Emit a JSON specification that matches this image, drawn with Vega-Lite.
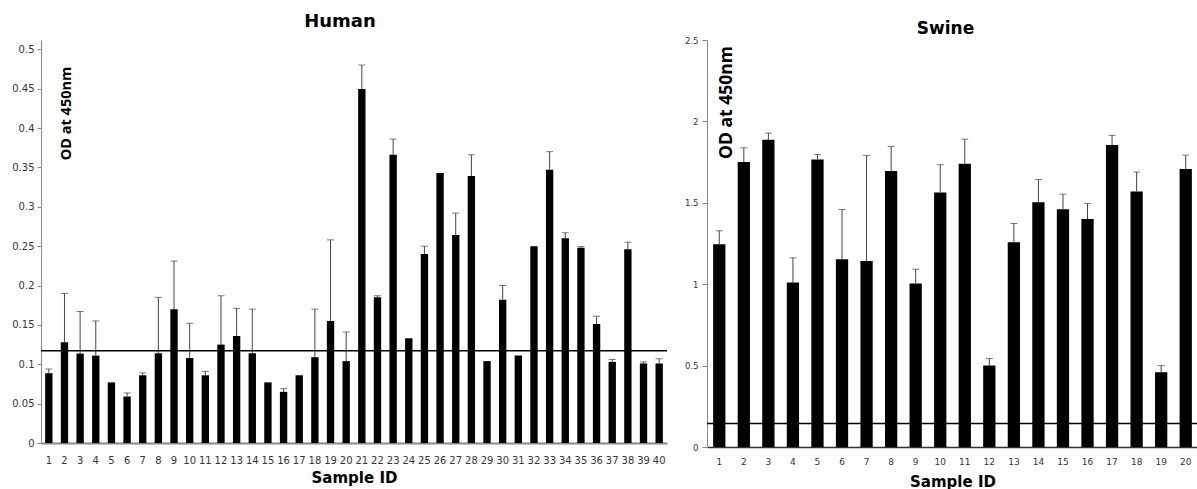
{
  "$schema": "https://vega.github.io/schema/vega-lite/v6.json",
  "background": "white",
  "padding": {"left": 5, "top": 13, "right": 0, "bottom": 0},
  "spacing": 15,
  "config": {"view": {"stroke": null}, "axis": {"grid": false}},
  "datasets": {
    "human": [
      {"id": 1, "od": 0.0886, "hi": 0.094},
      {"id": 2, "od": 0.128, "hi": 0.190},
      {"id": 3, "od": 0.1136, "hi": 0.167},
      {"id": 4, "od": 0.111, "hi": 0.155},
      {"id": 5, "od": 0.077, "hi": null},
      {"id": 6, "od": 0.059, "hi": 0.0636},
      {"id": 7, "od": 0.086, "hi": 0.089},
      {"id": 8, "od": 0.114, "hi": 0.185},
      {"id": 9, "od": 0.170, "hi": 0.231},
      {"id": 10, "od": 0.108, "hi": 0.152},
      {"id": 11, "od": 0.086, "hi": 0.091},
      {"id": 12, "od": 0.125, "hi": 0.187},
      {"id": 13, "od": 0.136, "hi": 0.171},
      {"id": 14, "od": 0.114, "hi": 0.170},
      {"id": 15, "od": 0.077, "hi": null},
      {"id": 16, "od": 0.065, "hi": 0.069},
      {"id": 17, "od": 0.086, "hi": null},
      {"id": 18, "od": 0.109, "hi": 0.170},
      {"id": 19, "od": 0.155, "hi": 0.258},
      {"id": 20, "od": 0.104, "hi": 0.141},
      {"id": 21, "od": 0.4496, "hi": 0.480},
      {"id": 22, "od": 0.185, "hi": 0.187},
      {"id": 23, "od": 0.366, "hi": 0.386},
      {"id": 24, "od": 0.133, "hi": null},
      {"id": 25, "od": 0.240, "hi": 0.250},
      {"id": 26, "od": 0.343, "hi": null},
      {"id": 27, "od": 0.264, "hi": 0.292},
      {"id": 28, "od": 0.339, "hi": 0.366},
      {"id": 29, "od": 0.104, "hi": null},
      {"id": 30, "od": 0.182, "hi": 0.200},
      {"id": 31, "od": 0.111, "hi": null},
      {"id": 32, "od": 0.250, "hi": null},
      {"id": 33, "od": 0.347, "hi": 0.370},
      {"id": 34, "od": 0.260, "hi": 0.267},
      {"id": 35, "od": 0.248, "hi": 0.2496},
      {"id": 36, "od": 0.151, "hi": 0.161},
      {"id": 37, "od": 0.103, "hi": 0.106},
      {"id": 38, "od": 0.246, "hi": 0.255},
      {"id": 39, "od": 0.101, "hi": 0.103},
      {"id": 40, "od": 0.101, "hi": 0.107}
    ],
    "swine": [
      {"id": 1, "od": 1.246, "hi": 1.328},
      {"id": 2, "od": 1.750, "hi": 1.838},
      {"id": 3, "od": 1.887, "hi": 1.928},
      {"id": 4, "od": 1.010, "hi": 1.162},
      {"id": 5, "od": 1.766, "hi": 1.797},
      {"id": 6, "od": 1.154, "hi": 1.459},
      {"id": 7, "od": 1.143, "hi": 1.791},
      {"id": 8, "od": 1.695, "hi": 1.846},
      {"id": 9, "od": 1.004, "hi": 1.092},
      {"id": 10, "od": 1.564, "hi": 1.734},
      {"id": 11, "od": 1.740, "hi": 1.891},
      {"id": 12, "od": 0.500, "hi": 0.543},
      {"id": 13, "od": 1.258, "hi": 1.373},
      {"id": 14, "od": 1.504, "hi": 1.643},
      {"id": 15, "od": 1.461, "hi": 1.553},
      {"id": 16, "od": 1.400, "hi": 1.496},
      {"id": 17, "od": 1.855, "hi": 1.914},
      {"id": 18, "od": 1.570, "hi": 1.689},
      {"id": 19, "od": 0.459, "hi": 0.500},
      {"id": 20, "od": 1.707, "hi": 1.793}
    ],
    "humanCut": [{"cut": 0.117}],
    "swineCut": [{"cut": 0.145}]
  },
  "hconcat": [
    {
      "width": 626,
      "height": 403,
      "title": {"text": "Human", "font": "DejaVu Sans", "fontSize": 18, "fontWeight": "bold", "color": "black", "offset": -5, "baseline": "alphabetic", "dx": -14, "frame": "group"},
      "layer": [
        {
          "data": {"name": "human"},
          "mark": {"type": "bar", "color": "black"},
          "encoding": {
            "x": {
              "field": "id", "type": "ordinal",
              "scale": {"paddingInner": 0.53, "paddingOuter": 0.265},
              "axis": {
                "title": "Sample ID", "titleFont": "DejaVu Sans", "titleFontSize": 15, "titleFontWeight": "bold", "titleColor": "black",
                "titleY": 39, "titleBaseline": "alphabetic",
                "labelAngle": 0, "labelFont": "DejaVu Sans", "labelFontSize": 10, "labelColor": "#333344",
                "labelPadding": 12, "ticks": false, "domainColor": "#888888", "domainWidth": 2, "labelOverlap": false
              }
            },
            "y": {
              "field": "od", "type": "quantitative",
              "scale": {"domain": [0, 0.5118], "nice": false, "zero": true},
              "axis": {
                "title": "OD at 450nm", "titleFont": "Open Sans", "titleFontSize": 14.5, "titleFontWeight": "bold", "titleColor": "black",
                "titleX": 25, "titleY": 73, "titleAngle": 270, "titleAlign": "center", "titleBaseline": "middle",
                "values": [0, 0.05, 0.1, 0.15, 0.2, 0.25, 0.3, 0.35, 0.4, 0.45, 0.5], "format": "~g",
                "labelFont": "DejaVu Sans", "labelFontSize": 10, "labelColor": "#333344",
                "tickSize": 4, "tickColor": "#888888", "domainColor": "#888888", "labelPadding": 3,
                "minExtent": 36, "maxExtent": 36
              }
            }
          }
        },
        {
          "data": {"name": "human"},
          "transform": [{"filter": "datum.hi != null"}],
          "mark": {"type": "rule", "color": "#444444", "strokeWidth": 1},
          "encoding": {
            "x": {"field": "id", "type": "ordinal"},
            "y": {"field": "od", "type": "quantitative", "title": "OD at 450nm"},
            "y2": {"field": "hi"}
          }
        },
        {
          "data": {"name": "human"},
          "transform": [{"filter": "datum.hi != null"}],
          "mark": {"type": "tick", "color": "#444444", "thickness": 1, "size": 7, "orient": "horizontal"},
          "encoding": {
            "x": {"field": "id", "type": "ordinal"},
            "y": {"field": "hi", "type": "quantitative", "title": "OD at 450nm"}
          }
        },
        {
          "data": {"name": "humanCut"},
          "mark": {"type": "rule", "color": "black", "strokeWidth": 1.5},
          "encoding": {
            "y": {"field": "cut", "type": "quantitative", "title": "OD at 450nm"}
          }
        }
      ]
    },
    {
      "width": 491,
      "height": 407,
      "title": {"text": "Swine", "font": "DejaVu Sans", "fontSize": 17, "fontWeight": "bold", "color": "black", "offset": -15, "baseline": "alphabetic", "dx": -7, "frame": "group"},
      "layer": [
        {
          "data": {"name": "swine"},
          "mark": {"type": "bar", "color": "black"},
          "encoding": {
            "x": {
              "field": "id", "type": "ordinal",
              "scale": {"paddingInner": 0.5, "paddingOuter": 0.25},
              "axis": {
                "title": "Sample ID", "titleFont": "DejaVu Sans", "titleFontSize": 15, "titleFontWeight": "bold", "titleColor": "black",
                "titleY": 39, "titleBaseline": "alphabetic",
                "labelAngle": 0, "labelFont": "DejaVu Sans", "labelFontSize": 9, "labelColor": "#333344",
                "labelPadding": 10, "ticks": false, "domainColor": "#333333", "domainWidth": 1.5, "labelOverlap": false
              }
            },
            "y": {
              "field": "od", "type": "quantitative",
              "scale": {"domain": [0, 2.5], "nice": false, "zero": true},
              "axis": {
                "title": "OD at 450nm", "titleFont": "Open Sans", "titleFontSize": 17.5, "titleFontWeight": "bold", "titleColor": "black",
                "titleX": 19, "titleY": 62, "titleAngle": 270, "titleAlign": "center", "titleBaseline": "middle",
                "values": [0, 0.5, 1, 1.5, 2, 2.5], "format": "~g",
                "labelFont": "DejaVu Sans", "labelFontSize": 8.5, "labelColor": "#333344",
                "tickSize": 5, "tickColor": "#888888", "domainColor": "#888888", "labelPadding": 4,
                "minExtent": 24, "maxExtent": 24
              }
            }
          }
        },
        {
          "data": {"name": "swine"},
          "mark": {"type": "rule", "color": "#444444", "strokeWidth": 1},
          "encoding": {
            "x": {"field": "id", "type": "ordinal"},
            "y": {"field": "od", "type": "quantitative", "title": "OD at 450nm"},
            "y2": {"field": "hi"}
          }
        },
        {
          "data": {"name": "swine"},
          "mark": {"type": "tick", "color": "#444444", "thickness": 1, "size": 7, "orient": "horizontal"},
          "encoding": {
            "x": {"field": "id", "type": "ordinal"},
            "y": {"field": "hi", "type": "quantitative", "title": "OD at 450nm"}
          }
        },
        {
          "data": {"name": "swineCut"},
          "mark": {"type": "rule", "color": "black", "strokeWidth": 1.5},
          "encoding": {
            "y": {"field": "cut", "type": "quantitative", "title": "OD at 450nm"}
          }
        }
      ]
    }
  ]
}
